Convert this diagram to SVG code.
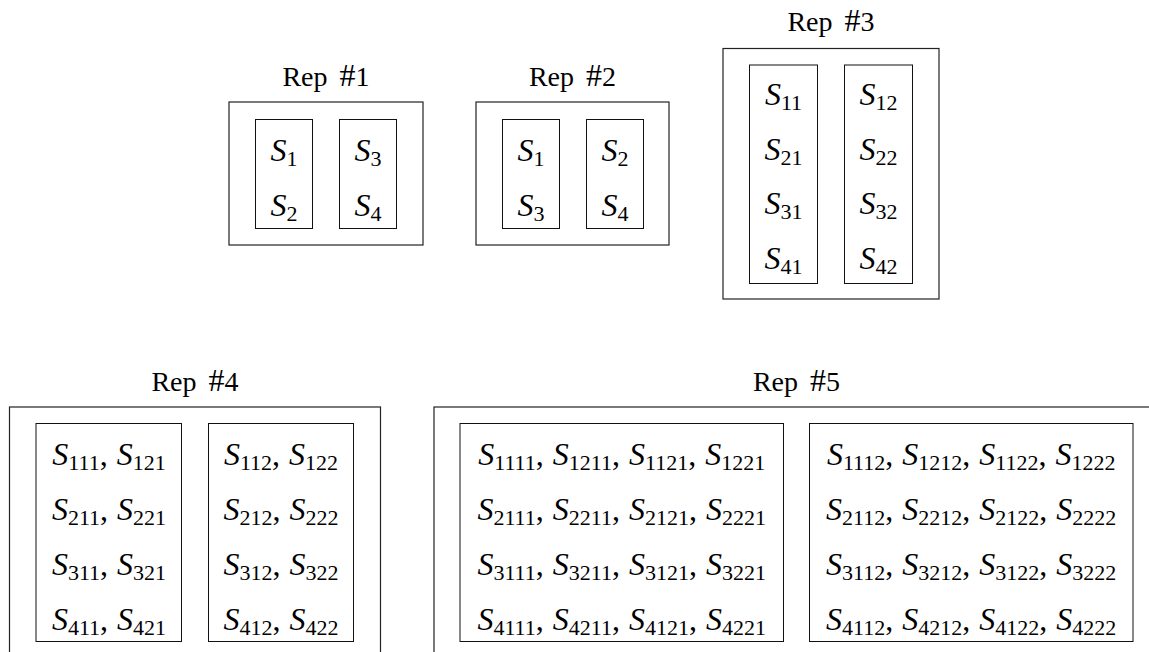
<svg xmlns="http://www.w3.org/2000/svg" width="1149" height="652" viewBox="0 0 1149 652">
<style>
.outer{fill:none;stroke:#222;stroke-width:1.2}
.inner{fill:none;stroke:#111;stroke-width:1}
.title{font-family:"Liberation Serif",serif;font-size:28px;fill:#000;text-anchor:middle;word-spacing:5px}
.h{font-size:32px}
.m{font-family:"Liberation Serif",serif;font-size:32px;fill:#000;text-anchor:middle}
.s{font-style:italic}
.b{font-size:22px}
</style>
<rect width="1149" height="652" fill="#fff"/>
<g id="rep1">
<text class="title" x="326" y="86">Rep <tspan class="h">#</tspan>1</text>
<rect class="outer" x="229" y="102" width="194" height="143"/>
<rect class="inner" x="255.5" y="119.5" width="57" height="109"/>
<rect class="inner" x="339.5" y="119.5" width="57" height="109"/>
<text class="m" x="284" y="161"><tspan class="s">S</tspan><tspan class="b" dy="5">1</tspan></text>
<text class="m" x="284" y="216"><tspan class="s">S</tspan><tspan class="b" dy="5">2</tspan></text>
<text class="m" x="368" y="161"><tspan class="s">S</tspan><tspan class="b" dy="5">3</tspan></text>
<text class="m" x="368" y="216"><tspan class="s">S</tspan><tspan class="b" dy="5">4</tspan></text>
</g>
<g id="rep2">
<text class="title" x="572.5" y="86">Rep <tspan class="h">#</tspan>2</text>
<rect class="outer" x="476" y="102" width="193" height="143"/>
<rect class="inner" x="502.5" y="119.5" width="57" height="109"/>
<rect class="inner" x="586.5" y="119.5" width="57" height="109"/>
<text class="m" x="531" y="161"><tspan class="s">S</tspan><tspan class="b" dy="5">1</tspan></text>
<text class="m" x="531" y="216"><tspan class="s">S</tspan><tspan class="b" dy="5">3</tspan></text>
<text class="m" x="615" y="161"><tspan class="s">S</tspan><tspan class="b" dy="5">2</tspan></text>
<text class="m" x="615" y="216"><tspan class="s">S</tspan><tspan class="b" dy="5">4</tspan></text>
</g>
<g id="rep3">
<text class="title" x="831" y="31">Rep <tspan class="h">#</tspan>3</text>
<rect class="outer" x="723" y="48.5" width="216" height="250.5"/>
<rect class="inner" x="749.5" y="65" width="68" height="218.5"/>
<rect class="inner" x="844.5" y="65" width="68" height="218.5"/>
<text class="m" x="783.5" y="105"><tspan class="s">S</tspan><tspan class="b" dy="5">11</tspan></text>
<text class="m" x="783.5" y="160"><tspan class="s">S</tspan><tspan class="b" dy="5">21</tspan></text>
<text class="m" x="783.5" y="214"><tspan class="s">S</tspan><tspan class="b" dy="5">31</tspan></text>
<text class="m" x="783.5" y="269"><tspan class="s">S</tspan><tspan class="b" dy="5">41</tspan></text>
<text class="m" x="878.5" y="105"><tspan class="s">S</tspan><tspan class="b" dy="5">12</tspan></text>
<text class="m" x="878.5" y="160"><tspan class="s">S</tspan><tspan class="b" dy="5">22</tspan></text>
<text class="m" x="878.5" y="214"><tspan class="s">S</tspan><tspan class="b" dy="5">32</tspan></text>
<text class="m" x="878.5" y="269"><tspan class="s">S</tspan><tspan class="b" dy="5">42</tspan></text>
</g>
<g id="rep4">
<text class="title" x="195" y="391">Rep <tspan class="h">#</tspan>4</text>
<rect class="outer" x="9.5" y="407" width="371" height="270"/>
<rect class="inner" x="36" y="423.5" width="145.5" height="218"/>
<rect class="inner" x="208.5" y="423.5" width="145" height="218"/>
<text class="m" x="109" y="465"><tspan class="s">S</tspan><tspan class="b" dy="5">111</tspan><tspan dy="-5">, </tspan><tspan class="s" dx="1">S</tspan><tspan class="b" dy="5">121</tspan></text>
<text class="m" x="109" y="520"><tspan class="s">S</tspan><tspan class="b" dy="5">211</tspan><tspan dy="-5">, </tspan><tspan class="s" dx="1">S</tspan><tspan class="b" dy="5">221</tspan></text>
<text class="m" x="109" y="575"><tspan class="s">S</tspan><tspan class="b" dy="5">311</tspan><tspan dy="-5">, </tspan><tspan class="s" dx="1">S</tspan><tspan class="b" dy="5">321</tspan></text>
<text class="m" x="109" y="630"><tspan class="s">S</tspan><tspan class="b" dy="5">411</tspan><tspan dy="-5">, </tspan><tspan class="s" dx="1">S</tspan><tspan class="b" dy="5">421</tspan></text>
<text class="m" x="281" y="465"><tspan class="s">S</tspan><tspan class="b" dy="5">112</tspan><tspan dy="-5">, </tspan><tspan class="s" dx="1">S</tspan><tspan class="b" dy="5">122</tspan></text>
<text class="m" x="281" y="520"><tspan class="s">S</tspan><tspan class="b" dy="5">212</tspan><tspan dy="-5">, </tspan><tspan class="s" dx="1">S</tspan><tspan class="b" dy="5">222</tspan></text>
<text class="m" x="281" y="575"><tspan class="s">S</tspan><tspan class="b" dy="5">312</tspan><tspan dy="-5">, </tspan><tspan class="s" dx="1">S</tspan><tspan class="b" dy="5">322</tspan></text>
<text class="m" x="281" y="630"><tspan class="s">S</tspan><tspan class="b" dy="5">412</tspan><tspan dy="-5">, </tspan><tspan class="s" dx="1">S</tspan><tspan class="b" dy="5">422</tspan></text>
</g>
<g id="rep5">
<text class="title" x="796.5" y="391">Rep <tspan class="h">#</tspan>5</text>
<rect class="outer" x="434" y="407" width="726" height="270"/>
<rect class="inner" x="460" y="423.5" width="323.5" height="218"/>
<rect class="inner" x="809.5" y="423.5" width="323.5" height="218"/>
<text class="m" x="621.7" y="465"><tspan class="s">S</tspan><tspan class="b" dy="5">1111</tspan><tspan dy="-5">, </tspan><tspan class="s" dx="1">S</tspan><tspan class="b" dy="5">1211</tspan><tspan dy="-5">, </tspan><tspan class="s" dx="1">S</tspan><tspan class="b" dy="5">1121</tspan><tspan dy="-5">, </tspan><tspan class="s" dx="1">S</tspan><tspan class="b" dy="5">1221</tspan></text>
<text class="m" x="621.7" y="520"><tspan class="s">S</tspan><tspan class="b" dy="5">2111</tspan><tspan dy="-5">, </tspan><tspan class="s" dx="1">S</tspan><tspan class="b" dy="5">2211</tspan><tspan dy="-5">, </tspan><tspan class="s" dx="1">S</tspan><tspan class="b" dy="5">2121</tspan><tspan dy="-5">, </tspan><tspan class="s" dx="1">S</tspan><tspan class="b" dy="5">2221</tspan></text>
<text class="m" x="621.7" y="575"><tspan class="s">S</tspan><tspan class="b" dy="5">3111</tspan><tspan dy="-5">, </tspan><tspan class="s" dx="1">S</tspan><tspan class="b" dy="5">3211</tspan><tspan dy="-5">, </tspan><tspan class="s" dx="1">S</tspan><tspan class="b" dy="5">3121</tspan><tspan dy="-5">, </tspan><tspan class="s" dx="1">S</tspan><tspan class="b" dy="5">3221</tspan></text>
<text class="m" x="621.7" y="630"><tspan class="s">S</tspan><tspan class="b" dy="5">4111</tspan><tspan dy="-5">, </tspan><tspan class="s" dx="1">S</tspan><tspan class="b" dy="5">4211</tspan><tspan dy="-5">, </tspan><tspan class="s" dx="1">S</tspan><tspan class="b" dy="5">4121</tspan><tspan dy="-5">, </tspan><tspan class="s" dx="1">S</tspan><tspan class="b" dy="5">4221</tspan></text>
<text class="m" x="971.2" y="465"><tspan class="s">S</tspan><tspan class="b" dy="5">1112</tspan><tspan dy="-5">, </tspan><tspan class="s" dx="1">S</tspan><tspan class="b" dy="5">1212</tspan><tspan dy="-5">, </tspan><tspan class="s" dx="1">S</tspan><tspan class="b" dy="5">1122</tspan><tspan dy="-5">, </tspan><tspan class="s" dx="1">S</tspan><tspan class="b" dy="5">1222</tspan></text>
<text class="m" x="971.2" y="520"><tspan class="s">S</tspan><tspan class="b" dy="5">2112</tspan><tspan dy="-5">, </tspan><tspan class="s" dx="1">S</tspan><tspan class="b" dy="5">2212</tspan><tspan dy="-5">, </tspan><tspan class="s" dx="1">S</tspan><tspan class="b" dy="5">2122</tspan><tspan dy="-5">, </tspan><tspan class="s" dx="1">S</tspan><tspan class="b" dy="5">2222</tspan></text>
<text class="m" x="971.2" y="575"><tspan class="s">S</tspan><tspan class="b" dy="5">3112</tspan><tspan dy="-5">, </tspan><tspan class="s" dx="1">S</tspan><tspan class="b" dy="5">3212</tspan><tspan dy="-5">, </tspan><tspan class="s" dx="1">S</tspan><tspan class="b" dy="5">3122</tspan><tspan dy="-5">, </tspan><tspan class="s" dx="1">S</tspan><tspan class="b" dy="5">3222</tspan></text>
<text class="m" x="971.2" y="630"><tspan class="s">S</tspan><tspan class="b" dy="5">4112</tspan><tspan dy="-5">, </tspan><tspan class="s" dx="1">S</tspan><tspan class="b" dy="5">4212</tspan><tspan dy="-5">, </tspan><tspan class="s" dx="1">S</tspan><tspan class="b" dy="5">4122</tspan><tspan dy="-5">, </tspan><tspan class="s" dx="1">S</tspan><tspan class="b" dy="5">4222</tspan></text>
</g>
<g id="connectors"/>
</svg>
